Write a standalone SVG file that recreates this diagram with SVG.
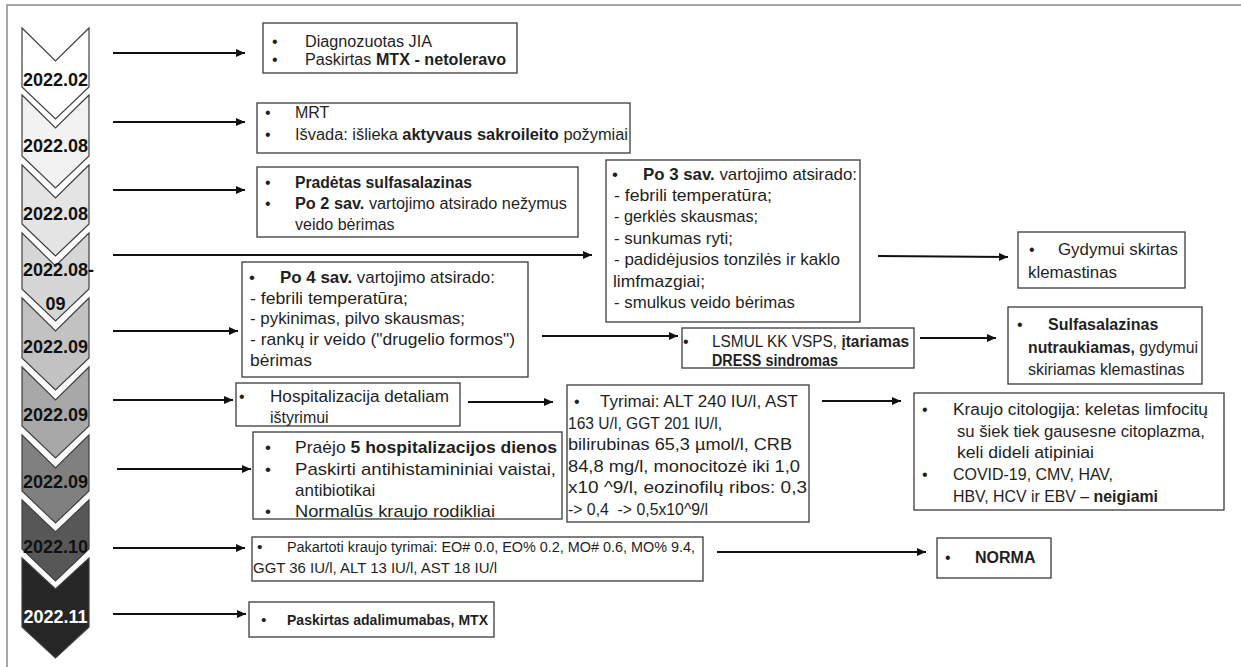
<svg xmlns="http://www.w3.org/2000/svg" width="1241" height="667" viewBox="0 0 1241 667">
<style>
.t{font-family:"Liberation Sans",Arial,sans-serif;font-size:16px;fill:#1f1f1f}
.b{font-weight:bold}
.f17{font-size:17px}
.f155{font-size:15.5px}
.box{fill:#fff;stroke:#3a3a3a;stroke-width:1.3}
.chev{stroke:#3f3f3f;stroke-width:1.2}
.cl{font-family:"Liberation Sans",Arial,sans-serif;font-size:18px;font-weight:bold;fill:#111;text-anchor:middle}
.conn line{stroke:#111;stroke-width:2;marker-end:url(#ah)}
</style>
<defs>
<marker id="ah" markerUnits="userSpaceOnUse" markerWidth="9" markerHeight="8" refX="9" refY="4" orient="auto">
<path d="M0,0 L9,4 L0,8 z" fill="#111"/>
</marker>
</defs>
<rect width="1241" height="667" fill="#fff"/>
<path d="M7,667 V5 H1241" fill="none" stroke="#8a8a8a" stroke-width="1.5"/>

<g id="timeline">
<g id="c1"><path class="chev" fill="#ffffff" d="M22,28 L55.5,61 L89,28 L89,87 L55.5,119 L22,87 Z"/><text class="cl" x="55.5" y="86">2022.02</text></g>
<g id="c2"><path class="chev" fill="#f2f2f2" d="M22,95 L55.5,128 L89,95 L89,156 L55.5,188 L22,156 Z"/><text class="cl" x="55.5" y="152">2022.08</text></g>
<g id="c3"><path class="chev" fill="#e4e4e4" d="M22,165 L55.5,198 L89,165 L89,224 L55.5,256 L22,224 Z"/><text class="cl" x="55.5" y="220">2022.08</text></g>
<g id="c4"><path class="chev" fill="#d6d6d6" d="M22,233 L55.5,266 L89,233 L89,289 L55.5,321 L22,289 Z"/><text class="cl" x="23" y="276" style="text-anchor:start">2022.08-</text><text class="cl" x="55.5" y="310">09</text></g>
<g id="c5"><path class="chev" fill="#c2c2c2" d="M22,298 L55.5,331 L89,298 L89,358 L55.5,390 L22,358 Z"/><text class="cl" x="55.5" y="353">2022.09</text></g>
<g id="c6"><path class="chev" fill="#a8a8a8" d="M22,367 L55.5,400 L89,367 L89,426 L55.5,458 L22,426 Z"/><text class="cl" x="55.5" y="421">2022.09</text></g>
<g id="c7"><path class="chev" fill="#808080" d="M22,435 L55.5,468 L89,435 L89,491 L55.5,523 L22,491 Z"/><text class="cl" x="55.5" y="488">2022.09</text></g>
<g id="c8"><path class="chev" fill="#575757" d="M22,500 L55.5,532 L89,500 L89,549 L55.5,581 L22,549 Z"/><text class="cl" x="55.5" y="553">2022.10</text></g>
<g id="c9"><path class="chev" fill="#262626" d="M22,558 L55.5,589 L89,558 L89,627 L55.5,658 L22,627 Z"/><text class="cl" x="55.5" y="623" style="fill:#fff">2022.11</text></g>
</g>

<g id="connectors" class="conn">
<line x1="113" y1="53" x2="245" y2="53"/>
<line x1="113" y1="122" x2="245" y2="122"/>
<line x1="113" y1="190" x2="245" y2="190"/>
<line x1="113" y1="255" x2="592" y2="255"/>
<line x1="113" y1="331" x2="238" y2="331"/>
<line x1="542" y1="336" x2="678" y2="336"/>
<line x1="878" y1="256" x2="1008" y2="257"/>
<line x1="920" y1="338" x2="996" y2="338"/>
<line x1="113" y1="400" x2="233" y2="400"/>
<line x1="468" y1="402" x2="553" y2="402"/>
<line x1="822" y1="401" x2="901" y2="401"/>
<line x1="117" y1="469" x2="251" y2="469"/>
<line x1="113" y1="548" x2="245" y2="548"/>
<line x1="717" y1="552" x2="926" y2="552"/>
<line x1="113" y1="614" x2="246" y2="614"/>
</g>

<g id="nA"><rect class="box" x="263" y="23" width="254" height="50"/>
<text class="t" x="272" y="47">•</text><text class="t" x="272" y="65">•</text>
<text class="t" x="305" y="47" textLength="127" lengthAdjust="spacingAndGlyphs">Diagnozuotas JIA</text>
<text class="t" x="305" y="65" textLength="201" lengthAdjust="spacingAndGlyphs">Paskirtas <tspan class="b">MTX - netoleravo</tspan></text>
</g>

<g id="nB"><rect class="box" x="257" y="103" width="373" height="50"/>
<text class="t" x="265" y="118">•</text><text class="t" x="265" y="140">•</text>
<text class="t" x="295" y="118">MRT</text>
<text class="t" x="295" y="140" textLength="333" lengthAdjust="spacingAndGlyphs">Išvada: išlieka <tspan class="b">aktyvaus sakroileito</tspan> požymiai</text>
</g>

<g id="nC"><rect class="box" x="257" y="167" width="321" height="70"/>
<text class="t" x="265" y="188">•</text><text class="t" x="265" y="209">•</text>
<text class="t b" x="295" y="188" textLength="177" lengthAdjust="spacingAndGlyphs">Pradėtas sulfasalazinas</text>
<text class="t" x="295" y="209" textLength="272" lengthAdjust="spacingAndGlyphs"><tspan class="b">Po 2 sav.</tspan> vartojimo atsirado nežymus</text>
<text class="t" x="295" y="230">veido bėrimas</text>
</g>

<g id="nD"><rect class="box" x="606" y="160" width="254" height="162"/>
<text class="t f17" x="612" y="180">•</text>
<text class="t f17" x="643" y="180" textLength="214" lengthAdjust="spacingAndGlyphs"><tspan class="b">Po 3 sav.</tspan> vartojimo atsirado:</text>
<text class="t f17" x="614" y="201" textLength="158" lengthAdjust="spacingAndGlyphs">- febrili temperatūra;</text>
<text class="t f17" x="614" y="222" textLength="144" lengthAdjust="spacingAndGlyphs">- gerklės skausmas;</text>
<text class="t f17" x="614" y="244" textLength="119" lengthAdjust="spacingAndGlyphs">- sunkumas ryti;</text>
<text class="t f17" x="614" y="265" textLength="226" lengthAdjust="spacingAndGlyphs">- padidėjusios tonzilės ir kaklo</text>
<text class="t f17" x="613" y="287" textLength="92" lengthAdjust="spacingAndGlyphs">limfmazgiai;</text>
<text class="t f17" x="614" y="308" textLength="181" lengthAdjust="spacingAndGlyphs">- smulkus veido bėrimas</text>
</g>

<g id="nE"><rect class="box" x="242" y="262" width="286" height="115"/>
<text class="t f17" x="249" y="283">•</text>
<text class="t f17" x="280" y="283" textLength="215" lengthAdjust="spacingAndGlyphs"><tspan class="b">Po 4 sav.</tspan> vartojimo atsirado:</text>
<text class="t f17" x="250" y="304" textLength="158" lengthAdjust="spacingAndGlyphs">- febrili temperatūra;</text>
<text class="t f17" x="250" y="324" textLength="215" lengthAdjust="spacingAndGlyphs">- pykinimas, pilvo skausmas;</text>
<text class="t f17" x="250" y="345" textLength="265" lengthAdjust="spacingAndGlyphs">- rankų ir veido ("drugelio formos")</text>
<text class="t f17" x="250" y="366" textLength="62" lengthAdjust="spacingAndGlyphs">bėrimas</text>
</g>

<g id="nF"><rect class="box" x="682" y="328" width="232" height="40"/>
<text class="t" x="683" y="347">•</text>
<text class="t" x="712" y="347" textLength="197" lengthAdjust="spacingAndGlyphs">LSMUL KK VSPS, <tspan class="b">įtariamas</tspan></text>
<text class="t b" x="712" y="366" textLength="126" lengthAdjust="spacingAndGlyphs">DRESS sindromas</text>
</g>

<g id="nG"><rect class="box" x="1018" y="232" width="167" height="56"/>
<text class="t" x="1029" y="255">•</text>
<text class="t" x="1058" y="255" textLength="120" lengthAdjust="spacingAndGlyphs">Gydymui skirtas</text>
<text class="t" x="1028" y="278" textLength="89" lengthAdjust="spacingAndGlyphs">klemastinas</text>
</g>

<g id="nH"><rect class="box" x="1008" y="307" width="194" height="77"/>
<text class="t" x="1017" y="330">•</text>
<text class="t b" x="1048" y="330">Sulfasalazinas</text>
<text class="t" x="1028" y="353" textLength="170" lengthAdjust="spacingAndGlyphs"><tspan class="b">nutraukiamas,</tspan> gydymui</text>
<text class="t" x="1028" y="375">skiriamas klemastinas</text>
</g>

<g id="nI"><rect class="box" x="236" y="383" width="224" height="43"/>
<text class="t" x="239" y="402">•</text>
<text class="t" x="270" y="402" textLength="179" lengthAdjust="spacingAndGlyphs">Hospitalizacija detaliam</text>
<text class="t" x="270" y="423">ištyrimui</text>
</g>

<g id="nJ"><rect class="box" x="253" y="432" width="309" height="87"/>
<text class="t f17" x="265" y="453">•</text><text class="t f17" x="265" y="475">•</text><text class="t f17" x="265" y="517">•</text>
<text class="t f17" x="295" y="453" textLength="262" lengthAdjust="spacingAndGlyphs">Praėjo <tspan class="b">5 hospitalizacijos dienos</tspan></text>
<text class="t f17" x="295" y="475" textLength="261" lengthAdjust="spacingAndGlyphs">Paskirti antihistamininiai vaistai,</text>
<text class="t f17" x="295" y="496">antibiotikai</text>
<text class="t f17" x="295" y="517" textLength="200" lengthAdjust="spacingAndGlyphs">Normalūs kraujo rodikliai</text>
</g>

<g id="nK"><rect class="box" x="567" y="385" width="242" height="137"/>
<text class="t" x="574" y="407">•</text>
<text class="t" x="600" y="407" textLength="198" lengthAdjust="spacingAndGlyphs">Tyrimai: ALT 240 IU/l, AST</text>
<text class="t" x="568" y="429" textLength="154" lengthAdjust="spacingAndGlyphs">163 U/l, GGT 201 IU/l,</text>
<text class="t" x="568" y="450" textLength="224" lengthAdjust="spacingAndGlyphs">bilirubinas 65,3 µmol/l, CRB</text>
<text class="t" x="568" y="472" textLength="232" lengthAdjust="spacingAndGlyphs">84,8 mg/l, monocitozė iki 1,0</text>
<text class="t" x="568" y="493" textLength="239" lengthAdjust="spacingAndGlyphs">x10 ^9/l, eozinofilų ribos: 0,3</text>
<text class="t" x="568" y="515" textLength="140" lengthAdjust="spacingAndGlyphs">-&gt; 0,4 &#160;-&gt; 0,5x10^9/l</text>
</g>

<g id="nL"><rect class="box" x="914" y="393" width="310" height="117"/>
<text class="t" x="922" y="415">•</text><text class="t" x="922" y="480">•</text>
<text class="t" x="953" y="415" textLength="255" lengthAdjust="spacingAndGlyphs">Kraujo citologija: keletas limfocitų</text>
<text class="t" x="957" y="437" textLength="248" lengthAdjust="spacingAndGlyphs">su šiek tiek gausesne citoplazma,</text>
<text class="t" x="957" y="458" textLength="137" lengthAdjust="spacingAndGlyphs">keli dideli atipiniai</text>
<text class="t" x="953" y="480" textLength="160" lengthAdjust="spacingAndGlyphs">COVID-19, CMV, HAV,</text>
<text class="t" x="953" y="502" textLength="205" lengthAdjust="spacingAndGlyphs">HBV, HCV ir EBV – <tspan class="b">neigiami</tspan></text>
</g>

<g id="nM"><rect class="box" x="252" y="537" width="451" height="44"/>
<text class="t f155" x="257" y="552">•</text>
<text class="t f155" x="287" y="552" textLength="408" lengthAdjust="spacingAndGlyphs">Pakartoti kraujo tyrimai: EO# 0.0, EO% 0.2, MO# 0.6, MO% 9.4,</text>
<text class="t f155" x="253" y="573" textLength="244" lengthAdjust="spacingAndGlyphs">GGT 36 IU/l, ALT 13 IU/l, AST 18 IU/l</text>
</g>

<g id="nN"><rect class="box" x="249" y="602" width="245" height="35"/>
<text class="t f155" x="261" y="625">•</text>
<text class="t f155 b" x="287" y="625" textLength="201" lengthAdjust="spacingAndGlyphs">Paskirtas adalimumabas, MTX</text>
</g>

<g id="nO"><rect class="box" x="937" y="538" width="114" height="40"/>
<text class="t" x="945" y="563">•</text>
<text class="t b" x="975" y="563">NORMA</text>
</g>
</svg>
